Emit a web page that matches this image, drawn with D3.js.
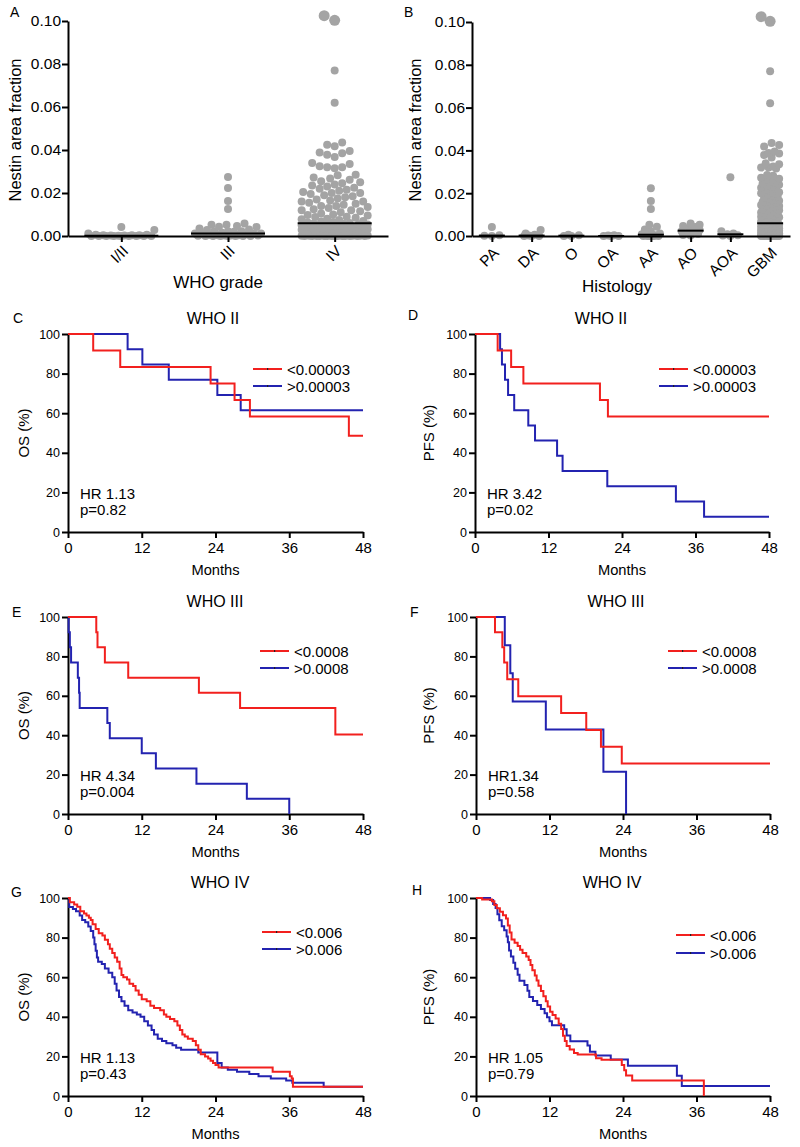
<!DOCTYPE html>
<html><head><meta charset="utf-8">
<script src="https://cdn.jsdelivr.net/npm/d3@7"></script>
<style>body{margin:0;background:#fff}</style>
</head><body><svg id="fig" width="800" height="1147" style="background:#fff"></svg>
<script>
// ---------------- DATA ----------------
const gradeCats = ["I/II", "III", "IV"];
const histCats = ["PA", "DA", "O", "OA", "AA", "AO", "AOA", "GBM"];
const scatterTicks = [0, 0.02, 0.04, 0.06, 0.08, 0.10];

const valPA = [0.0042, 0.0003, 0.0001, 0];
const valDA = [0.0028, 0.0012, 0.0006, 0.0002, 0, 0, 0];
const valO = [0.0006, 0.0003, 0, 0];
const valOA = [0.0004, 0.0002, 0, 0, 0];
const valAA = [0.0223, 0.0163, 0.0126, 0.0052, 0.0043, 0.003, 0.0022, 0.0012, 0.0008, 0.0004, 0.0002, 0.0001, 0, 0, 0, 0, 0, 0];
const valAO = [0.0058, 0.0052, 0.0047, 0.0042, 0.0035, 0.0028, 0.0022, 0.002, 0.0015, 0.001, 0.0005, 0.0002];
const valAOA = [0.0274, 0.0022, 0.0012, 0.0008, 0.0004, 0.0002, 0];
const valGBM = [
  0.1025, 0.1003, 0.077, 0.062,
  0.0435, 0.0425, 0.0418, 0.0395, 0.0388, 0.0385, 0.0378, 0.0367, 0.034, 0.0335, 0.0325, 0.032, 0.032, 0.0315,
  0.0285, 0.0282, 0.0272, 0.0268, 0.0262, 0.0255, 0.025, 0.0245, 0.024, 0.0235,
  0.023, 0.0225, 0.022, 0.0215, 0.021, 0.0205, 0.02, 0.02, 0.0195, 0.019,
  0.0185, 0.018, 0.0175, 0.017, 0.0165, 0.016, 0.016, 0.0155, 0.015, 0.0145,
  0.014, 0.014, 0.0135, 0.013, 0.0125, 0.012, 0.012, 0.0115, 0.011, 0.0105,
  0.010, 0.0098, 0.0095, 0.009, 0.0088, 0.0085, 0.008, 0.0078, 0.0075, 0.007,
  0.0068, 0.0065, 0.0063, 0.0061,
  0.0058, 0.0057, 0.0055, 0.0053, 0.0052, 0.005, 0.0049, 0.0047, 0.0046, 0.0045,
  0.0043, 0.0042, 0.004, 0.0039, 0.0038, 0.0036, 0.0035, 0.0034, 0.0032, 0.0031,
  0.003, 0.0029, 0.0028, 0.0026, 0.0025, 0.0024, 0.0023, 0.0022, 0.0021, 0.002,
  0.0019, 0.0018, 0.0017, 0.0016, 0.0015, 0.0014, 0.0013, 0.0012, 0.0011, 0.001,
  0.0009, 0.0008, 0.0008, 0.0007, 0.0006, 0.0005, 0.0005, 0.0004, 0.0004, 0.0003,
  0.0003, 0.0002, 0.0002, 0.0002, 0.0001, 0.0001, 0.0001, 0.0001, 0, 0,
  0, 0, 0, 0, 0, 0, 0, 0, 0, 0, 0, 0
];

const monthTicks = [0, 12, 24, 36, 48];
const pctTicks = [0, 20, 40, 60, 80, 100];

// Kaplan-Meier curves: [month, percent]
const osIIlow  = [[0,100],[4.1,91.7],[8.5,83.3],[23.2,75],[27.1,66.7],[29.6,58.3],[45.7,48.6],[48,48.6]];
const osIIhigh = [[0,100],[9.7,92.3],[12.1,84.6],[16.4,76.9],[24.3,69.2],[28.1,61.5],[48,61.5]];
const pfsIIlow  = [[0,100],[3.7,91.7],[5.9,83.3],[7.9,75],[20.4,66.7],[21.7,58.3],[48,58.3]];
const pfsIIhigh = [[0,100],[4.1,92.3],[4.4,84.6],[4.9,76.9],[5.4,69.2],[6.4,61.5],[8.7,53.8],[9.8,46.2],[13.4,38.5],[14.3,30.8],[21.6,23.1],[32.8,15.4],[37.4,7.7],[48,7.7]];
const osIIIlow  = [[0,100],[4.6,92.3],[4.8,84.6],[6.0,76.9],[9.8,69.2],[21.3,61.5],[28.0,53.8],[43.5,40.4],[48,40.4]];
const osIIIhigh = [[0,100],[0.1,92.3],[0.3,84.6],[0.5,76.9],[1.6,69.2],[1.8,61.5],[1.9,53.8],[6.4,46.2],[6.8,38.5],[12.0,30.8],[14.3,23.1],[20.9,15.4],[29.1,7.7],[36.0,0]];
const pfsIIIlow  = [[0,100],[3.1,92.3],[4.3,84.6],[4.6,76.9],[5.1,68.4],[6.9,59.8],[13.9,51.3],[18.0,42.7],[20.4,34.2],[23.8,25.6],[48,25.6]];
const pfsIIIhigh = [[0,100],[4.7,85.7],[5.6,71.4],[6.0,57.1],[11.4,42.9],[20.8,21.4],[24.5,0]];
const osIVlow = [[0,100],[0.3,97.8],[1.0,96.7],[1.5,95.6],[2.0,93.3],[2.6,92.2],[3.0,91.1],[3.4,90.0],[3.7,88.9],[4.0,86.7],[4.5,84.4],[5.0,82.2],[5.6,81.1],[6.0,78.9],[6.5,76.7],[6.8,74.4],[7.2,72.2],[7.6,70.0],[8.0,67.8],[8.4,64.4],[8.7,61.1],[9.0,60.0],[9.6,58.9],[10.0,56.7],[10.6,55.6],[11.0,53.3],[11.5,51.1],[12.0,48.9],[12.8,47.8],[13.4,45.6],[14.0,44.4],[15.0,43.3],[15.6,41.1],[16.0,40.0],[16.6,38.9],[17.3,37.8],[17.8,35.6],[18.2,33.3],[18.6,31.1],[19.0,30.0],[19.5,28.9],[20.3,27.8],[20.8,25.6],[21.2,23.3],[21.6,21.1],[22.3,20.0],[22.8,18.9],[23.2,17.8],[23.6,16.7],[24.0,15.6],[24.5,14.4],[33.3,12.2],[36.1,10.0],[36.4,8.9],[36.6,4.7],[48,4.7]];
const osIVhigh = [[0,100],[0.2,95.5],[0.8,94.4],[1.3,93.3],[1.9,91.1],[2.3,88.9],[2.8,87.8],[3.3,85.6],[3.7,83.3],[4.1,80.0],[4.3,76.7],[4.5,73.3],[4.7,70.0],[4.9,67.8],[5.5,66.7],[6.0,64.4],[6.6,62.2],[7.2,60.0],[7.6,56.7],[7.9,53.3],[8.3,50.0],[8.7,47.8],[9.2,45.6],[9.8,43.3],[10.5,42.2],[11.2,41.1],[11.8,40.0],[12.4,37.8],[13.0,35.6],[13.6,33.3],[14.0,31.1],[14.6,28.9],[15.3,27.8],[16.0,26.7],[17.0,25.6],[17.6,24.4],[18.4,23.3],[21.2,22.0],[24.3,16.7],[25.0,14.4],[26.0,13.3],[27.5,12.2],[29.5,11.1],[31.0,10.0],[33.0,8.9],[35.5,7.8],[36.5,6.7],[41.6,4.7],[48,4.7]];
const pfsIVlow = [[0,100],[1.0,99.2],[2.6,98.3],[3.0,96.5],[3.4,94.8],[3.9,93.0],[4.4,91.3],[4.9,89.6],[5.2,86.1],[5.5,82.6],[5.8,79.1],[6.3,77.4],[6.8,75.7],[7.2,73.9],[7.6,72.2],[8.2,70.4],[8.6,68.7],[8.9,66.1],[9.2,63.5],[9.6,60.9],[9.9,58.3],[10.2,55.7],[10.6,53.0],[11.0,50.4],[11.4,47.8],[11.7,45.2],[12.1,42.6],[12.5,40.9],[13.0,39.1],[13.5,36.5],[13.9,33.9],[14.2,30.4],[14.5,27.8],[14.8,25.2],[15.3,23.5],[16.0,21.7],[16.6,20.9],[19.6,19.1],[20.5,18.3],[23.8,15.6],[24.2,13.0],[24.5,10.4],[25.5,7.8],[37.2,7.8],[37.2,0]];
const pfsIVhigh = [[0,100],[2.3,99.0],[2.8,97.0],[3.2,94.9],[3.5,91.8],[3.8,88.8],[4.2,85.7],[4.6,83.7],[5.0,80.6],[5.2,77.6],[5.4,73.5],[5.7,70.4],[6.1,67.3],[6.4,64.3],[6.8,61.2],[7.1,58.2],[7.9,56.1],[8.4,53.1],[8.7,50.0],[9.3,48.0],[10.0,45.9],[10.6,43.9],[11.2,41.8],[11.6,39.8],[12.0,37.8],[12.4,35.7],[14.4,33.7],[14.8,30.6],[15.4,27.6],[18.2,25.5],[18.6,22.4],[19.5,20.4],[22.0,18.4],[24.8,15.3],[32.8,10.2],[33.6,5.1],[48,5.1]];

// ---------------- DRAWING ----------------
const FONT = '"Liberation Sans", Arial, Helvetica, sans-serif';
const RED = "#f2201e", BLUE = "#2323b0", GREY = "#a4a4a4";
const svg = d3.select("#fig");

function styleAxis(sel, fs) {
  sel.select(".domain").attr("stroke", "#000").attr("stroke-width", 2);
  sel.selectAll(".tick line").attr("stroke", "#000").attr("stroke-width", 2);
  sel.selectAll(".tick text").attr("font-size", fs).attr("font-family", FONT).attr("fill", "#000");
}
function txt(x, y, s, fs, anchor) {
  return svg.append("text").attr("x", x).attr("y", y).text(s)
    .attr("font-family", FONT).attr("font-size", fs).attr("fill", "#000")
    .attr("text-anchor", anchor || "start");
}

function swarm(values, cx, y, half, radiusOf) {
  const placed = [];
  const sorted = values.slice().sort((a, b) => a - b);
  const step = 1.5;
  const offs = [0];
  for (let k = 1; k * step <= half; k++) offs.push(-k * step, k * step);
  for (const v of sorted) {
    const r = radiusOf(v), py = y(v);
    let best = 0, bestScore = -Infinity;
    for (const o of offs) {
      let minGap = Infinity;
      for (const p of placed) {
        const gap = Math.hypot(o - p.o, py - p.y) - (r + p.r);
        if (gap < minGap) minGap = gap;
      }
      if (minGap >= -0.5) { best = o; bestScore = Infinity; break; }
      if (minGap > bestScore) { bestScore = minGap; best = o; }
    }
    placed.push({ v, o: best, y: py, r });
  }
  return placed.map(p => ({ v: p.v, cx: cx + p.o, cy: p.y, r: p.r }));
}

function scatterPanel(cfg) {
  const x = d3.scalePoint().domain(cfg.cats).range([cfg.x0, cfg.x1]).padding(0.5);
  const y = d3.scaleLinear().domain([0, 0.10]).range([cfg.yBot, cfg.yTop]);
  const rOf = v => (v >= 0.1 ? 5.5 : 4);
  const g = svg.append("g");
  cfg.cats.forEach((c, i) => {
    const pts = swarm(cfg.groups[i], x(c), y, cfg.half, rOf);
    g.append("g").selectAll("circle").data(pts).join("circle")
      .attr("cx", d => d.cx).attr("cy", d => d.cy).attr("r", d => d.r).attr("fill", GREY);
  });
  svg.append("g").attr("transform", `translate(${cfg.x0},0)`)
    .call(d3.axisLeft(y).tickValues(scatterTicks).tickFormat(d3.format(".2f")).tickSize(6).tickSizeOuter(0).tickPadding(1))
    .call(s => styleAxis(s, 15.5));
  svg.append("g").attr("transform", `translate(0,${cfg.yBot})`)
    .call(d3.axisBottom(x).tickSize(6).tickSizeOuter(0).tickFormat(""))
    .call(s => styleAxis(s, 14));
  cfg.cats.forEach((c, i) => {
    const m = d3.median(cfg.groups[i]);
    svg.append("line").attr("x1", x(c) - cfg.mhalf).attr("x2", x(c) + cfg.mhalf)
      .attr("y1", y(m)).attr("y2", y(m)).attr("stroke", "#000").attr("stroke-width", 2);
    svg.append("text").attr("transform", `translate(${x(c) + 4},${cfg.yBot + cfg.labDy}) rotate(-45)`)
      .attr("text-anchor", "end").attr("dy", "0.35em").text(c)
      .attr("font-family", FONT).attr("font-size", 15.5).attr("fill", "#000");
  });
  svg.append("text").attr("transform", `translate(${cfg.ylabX},130) rotate(-90)`)
    .attr("text-anchor", "middle").text("Nestin area fraction")
    .attr("font-family", FONT).attr("font-size", 16.5).attr("fill", "#000");
  txt(cfg.xlabX, cfg.xlabY, cfg.xlab, 17, "middle");
  txt(cfg.letterX, 17, cfg.letter, 14);
}

scatterPanel({ letter: "A", letterX: 10, cats: gradeCats,
  groups: [valPA.concat(valDA, valO, valOA), valAA.concat(valAO, valAOA), valGBM],
  x0: 68, x1: 388, yTop: 21, yBot: 236, half: 33, mhalf: 37, labDy: 12,
  ylabX: 21, xlab: "WHO grade", xlabX: 218, xlabY: 288 });
scatterPanel({ letter: "B", letterX: 404, cats: histCats,
  groups: [valPA, valDA, valO, valOA, valAA, valAO, valAOA, valGBM],
  x0: 472, x1: 790, yTop: 22, yBot: 236, half: 9, mhalf: 13, labDy: 14,
  ylabX: 421, xlab: "Histology", xlabX: 617, xlabY: 292 });

function kmPanel(cfg) {
  const x = d3.scaleLinear().domain([0, 48]).range([cfg.x0, cfg.x1]);
  const y = d3.scaleLinear().domain([0, 100]).range([cfg.yBot, cfg.yTop]);
  const line = d3.line().x(d => x(d[0])).y(d => y(d[1])).curve(d3.curveStepAfter);
  svg.append("g").attr("transform", `translate(${cfg.x0},0)`)
    .call(d3.axisLeft(y).tickValues(pctTicks).tickSize(6).tickSizeOuter(0).tickPadding(2))
    .call(s => styleAxis(s, 12.5));
  svg.append("g").attr("transform", `translate(0,${cfg.yBot})`)
    .call(d3.axisBottom(x).tickValues(monthTicks).tickSize(6).tickSizeOuter(0).tickPadding(4))
    .call(s => styleAxis(s, 15));
  [[cfg.high, BLUE], [cfg.low, RED]].forEach(([d, col]) => {
    svg.append("path").datum(d).attr("d", line).attr("fill", "none")
      .attr("stroke", col).attr("stroke-width", 2);
  });
  [[cfg.legend[0], RED, cfg.legY], [cfg.legend[1], BLUE, cfg.legY + cfg.legGap]].forEach(([t, col, ly]) => {
    svg.append("line").attr("x1", cfg.legX).attr("x2", cfg.legX + 29).attr("y1", ly).attr("y2", ly)
      .attr("stroke", col).attr("stroke-width", 2);
    svg.append("rect").attr("x", cfg.legX + 14).attr("y", ly - 1).attr("width", 1.2).attr("height", 2)
      .attr("fill", "#222");
    txt(cfg.legX + 34, ly + 5.5, t, 15);
  });
  txt(cfg.x0 + 12, cfg.yBot - 33, cfg.hr, 15);
  txt(cfg.x0 + 12, cfg.yBot - 17, cfg.p, 15);
  txt(cfg.titleX, cfg.yTop - 10, cfg.title, 16, "middle");
  txt(cfg.letterX, cfg.letterY, cfg.letter, 14);
  txt((cfg.x0 + cfg.x1) / 2, cfg.yBot + 43, "Months", 14.7, "middle");
  svg.append("text").attr("transform", `translate(${cfg.labX},${(cfg.yTop + cfg.yBot) / 2}) rotate(-90)`)
    .attr("text-anchor", "middle").text(cfg.ylab)
    .attr("font-family", FONT).attr("font-size", 15).attr("fill", "#000");
}

const L = { x0: 68, x1: 363, labX: 29 };
const R = { x0: 475, x1: 769, labX: 434 };
kmPanel({ ...L, letter: "C", letterX: 13, letterY: 323, title: "WHO II", titleX: 213, ylab: "OS (%)",
  yTop: 334, yBot: 532, low: osIIlow, high: osIIhigh, legend: ["<0.00003", ">0.00003"],
  legX: 253, legY: 369, legGap: 17, hr: "HR 1.13", p: "p=0.82" });
kmPanel({ ...R, letter: "D", letterX: 408, letterY: 320, title: "WHO II", titleX: 601, ylab: "PFS (%)",
  yTop: 334, yBot: 532, low: pfsIIlow, high: pfsIIhigh, legend: ["<0.00003", ">0.00003"],
  legX: 659, legY: 369, legGap: 17, hr: "HR 3.42", p: "p=0.02" });
kmPanel({ ...L, letter: "E", letterX: 12, letterY: 617, title: "WHO III", titleX: 215, ylab: "OS (%)",
  yTop: 617, yBot: 814, low: osIIIlow, high: osIIIhigh, legend: ["<0.0008", ">0.0008"],
  legX: 260, legY: 651, legGap: 17, hr: "HR 4.34", p: "p=0.004" });
kmPanel({ ...R, x0: 476, x1: 770, letter: "F", letterX: 410, letterY: 617, title: "WHO III", titleX: 616, ylab: "PFS (%)",
  yTop: 617, yBot: 814, low: pfsIIIlow, high: pfsIIIhigh, legend: ["<0.0008", ">0.0008"],
  legX: 668, legY: 651, legGap: 17, hr: "HR1.34", p: "p=0.58" });
kmPanel({ ...L, letter: "G", letterX: 11, letterY: 897, title: "WHO IV", titleX: 220, ylab: "OS (%)",
  yTop: 898, yBot: 1096, low: osIVlow, high: osIVhigh, legend: ["<0.006", ">0.006"],
  legX: 262, legY: 932, legGap: 17, hr: "HR 1.13", p: "p=0.43" });
kmPanel({ ...R, x0: 476, x1: 770, letter: "H", letterX: 412, letterY: 895, title: "WHO IV", titleX: 612, ylab: "PFS (%)",
  yTop: 898, yBot: 1096, low: pfsIVlow, high: pfsIVhigh, legend: ["<0.006", ">0.006"],
  legX: 676, legY: 935, legGap: 18, hr: "HR 1.05", p: "p=0.79" });
</script></body></html>
